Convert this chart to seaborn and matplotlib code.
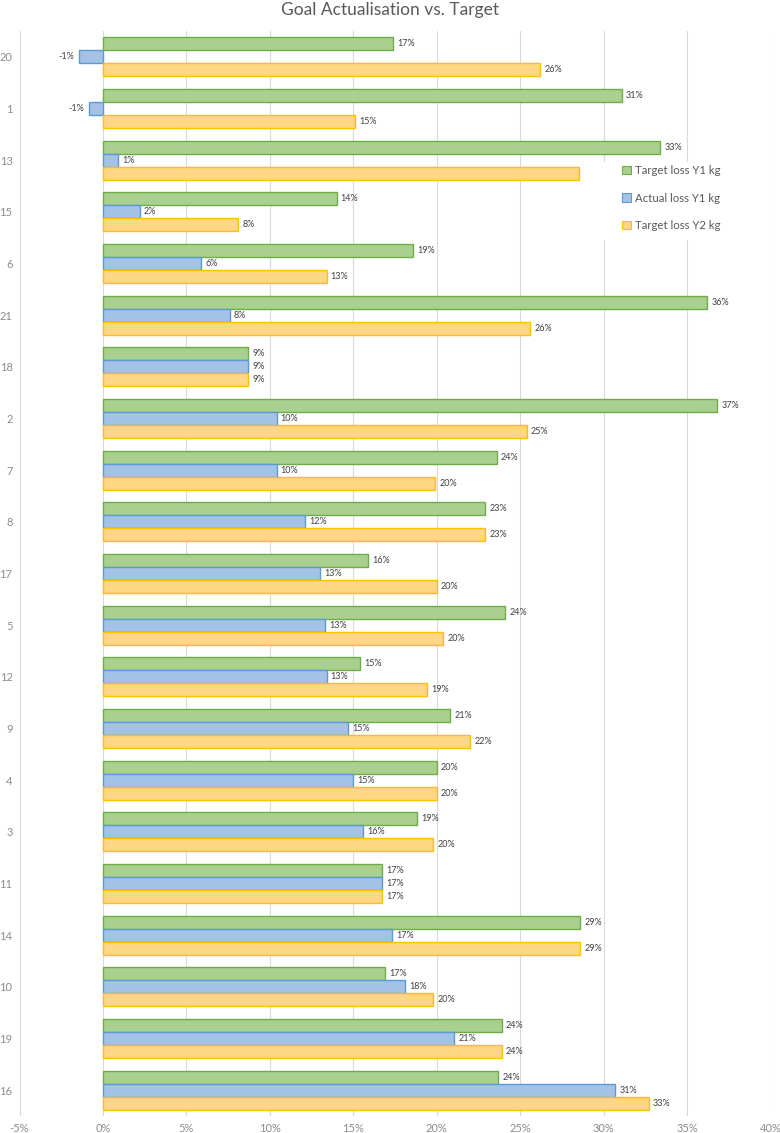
import numpy as np
import pandas as pd
import matplotlib
matplotlib.use("Agg")
import matplotlib.pyplot as plt
from matplotlib.patches import Patch, Rectangle
import seaborn as sns

# participants, top to bottom
ids = ["20", "1", "13", "15", "6", "21", "18", "2", "7", "8", "17",
       "5", "12", "9", "4", "3", "11", "14", "10", "19", "16"]

series = ["Target loss Y1 kg", "Actual loss Y1 kg", "Target loss Y2 kg"]

# values in percent
target_y1 = [17.4, 31.1, 33.4, 14.0, 18.6, 36.2, 8.7, 36.8, 23.6, 22.9, 15.9,
             24.1, 15.4, 20.8, 20.0, 18.8, 16.7, 28.6, 16.9, 23.9, 23.7]
actual_y1 = [-1.46, -0.86, 0.92, 2.2, 5.9, 7.6, 8.7, 10.4, 10.4, 12.1, 13.0,
             13.3, 13.4, 14.7, 15.0, 15.6, 16.7, 17.3, 18.1, 21.05, 30.7]
target_y2 = [26.2, 15.1, 28.5, 8.1, 13.4, 25.6, 8.7, 25.4, 19.9, 22.9, 20.0,
             20.4, 19.4, 22.0, 20.0, 19.8, 16.7, 28.6, 19.8, 23.9, 32.7]

xticks = [-5, 0, 5, 10, 15, 20, 25, 30, 35, 40]

fills = ["#A9D08E", "#A4C2E6", "#FFD683"]
edges = ["#70AD47", "#5B9BD5", "#FFC000"]

df = pd.DataFrame({
    "id": ids * 3,
    "series": np.repeat(series, len(ids)),
    "value": target_y1 + actual_y1 + target_y2,
})

sns.set_style("white")
plt.rcParams["font.family"] = ["Lato", "DejaVu Sans"]

fig = plt.figure(figsize=(7.8, 11.33), dpi=100)
ax = fig.add_axes([19.5 / 780, 1 - 1116 / 1133, 751 / 780, 1085 / 1133])

sns.barplot(data=df, x="value", y="id", hue="series", order=ids,
            hue_order=series, palette=fills, width=0.76, orient="h",
            saturation=1, ax=ax, legend=False)

for i, cont in enumerate(ax.containers):
    for p in cont:
        p.set_edgecolor(edges[i])
        p.set_linewidth(1.0)
    vals = [p.get_width() for p in cont]
    ax.bar_label(cont, labels=[f"{v:.0f}%" for v in vals], padding=3,
                 fontsize=6.5, color="#404040")

ax.set_xlim(-5, 40)
ax.set_xticks(xticks)
ax.set_xticklabels([f"{t}%" for t in xticks])
ax.set_xlabel("")
ax.set_ylabel("")
ax.grid(axis="x", color="#D9D9D9", linewidth=0.8)
ax.set_axisbelow(True)
for s in ax.spines.values():
    s.set_visible(False)
ax.tick_params(axis="both", length=0, labelsize=8, colors="#8C8C8C")
ax.tick_params(axis="y", pad=5)
ax.tick_params(axis="x", pad=5)

# legend sits on a white box like the Excel one
fig.patches.append(Rectangle((583 / 780, 1 - 240 / 1133), 180 / 780, 78 / 1133,
                             transform=fig.transFigure, facecolor="white",
                             edgecolor="none", zorder=4))
handles = [Patch(facecolor=f, edgecolor=e, linewidth=0.8) for f, e in zip(fills, edges)]
leg = fig.legend(handles, series, loc="upper left",
                 bbox_to_anchor=(622 / 780, 1 - 165 / 1133), frameon=False,
                 fontsize=8.2, labelcolor="#595959", borderpad=0, borderaxespad=0,
                 handlelength=0.75, handleheight=0.75, handletextpad=0.35,
                 labelspacing=1.45)
leg.set_zorder(5)

fig.suptitle("Goal Actualisation vs. Target", y=1 - 10 / 1133, va="center",
             fontsize=12.5, color="#595959")

fig.savefig("out.png", dpi=100)
